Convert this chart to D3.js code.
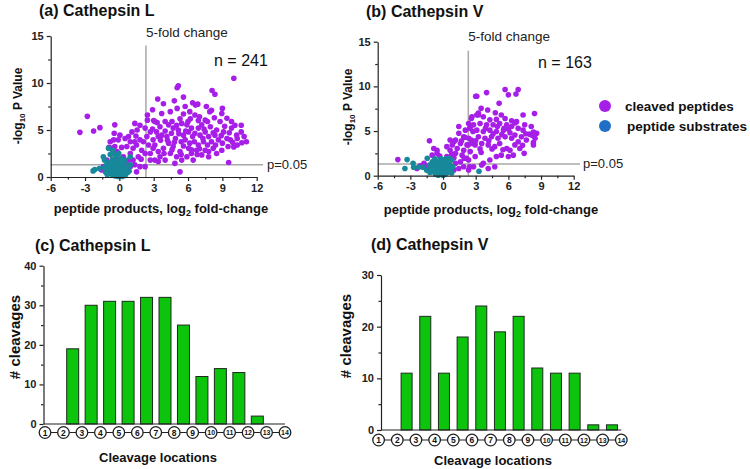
<!DOCTYPE html>
<html><head><meta charset="utf-8">
<script src="https://cdn.jsdelivr.net/npm/d3@7"></script>
<style>
body{margin:0;background:#fff;}
svg{display:block;font-family:"Liberation Sans",Arial,Helvetica,sans-serif;}
</style></head>
<body>
<svg id="chart" width="750" height="469"></svg>
<script>
// ---------------- DATA ----------------
const catLCleaved = [
[10.0,10.5],[5.15,9.7],[5.05,9.5],[8.1,9.2],[8.35,8.8],[5.6,8.5],[3.35,8.3],[3.85,7.8],[6.15,6.95],[6.65,7.65],[6.85,7.75],[7.9,6.95],[8.05,7.1],[4.45,6.95],[3.7,6.75],[5.05,7.3],[5.75,7.5],[6.6,6.6],[7.5,6.05],[8.95,6.75],[9.4,6.25],[8.8,5.9],[10.1,5.5],[9.8,5.2],[10.65,5.5],[10.65,4.8],[10.25,4.45],[11.1,3.75],[10.7,3.65],[10.3,3.4],[9.7,3.95],[9.4,4.1],[9.5,3.25],[8.35,4.45],[8.5,5.0],[7.95,5.35],[7.2,5.55],[6.9,5.2],[7.5,4.8],[7.8,4.3],[7.05,4.45],[6.6,4.65],[6.3,5.2],[5.9,5.55],[5.45,5.7],[6.05,4.8],[5.6,4.45],[5.15,5.0],[4.7,5.2],[4.3,5.55],[4.0,5.9],[3.55,5.35],[3.25,4.8],[3.7,4.45],[4.15,4.3],[4.55,4.65],[4.9,4.1],[5.4,3.75],[5.75,3.95],[6.15,3.6],[6.55,3.75],[6.9,3.4],[7.35,3.75],[8.05,3.75],[8.2,3.05],[7.5,2.85],[6.75,2.85],[6.05,3.05],[5.3,2.7],[4.7,3.25],[4.3,3.6],[3.85,3.05],[3.4,2.7],[4.45,2.5],[5.0,2.15],[5.45,1.8],[4.0,1.8],[3.4,1.65],[3.55,2.15],[5.9,2.15],[6.3,2.5],[9.55,1.55],[5.3,0.55],[10.3,4.1],[9.8,5.9],[9.1,4.8],[8.65,3.95],[8.95,2.85],[8.5,2.5],[7.8,2.15],[7.2,2.35],[6.45,1.8],[4.85,1.45],
[4.0,4.9],[4.6,5.9],[5.3,6.2],[6.2,6.2],[7.0,6.4],[7.7,5.9],[8.3,6.3],[9.2,5.4],[8.9,4.4],[7.3,4.1],[6.4,4.3],[5.8,4.9],[5.2,4.6],[4.8,3.7],[4.2,3.9],[3.6,3.9],[3.1,3.4],[3.9,2.5],[5.6,3.3],[6.3,2.9],[7.0,3.0],[7.7,3.4],[8.4,3.4],[9.0,3.6],[6.0,5.9],[5.0,5.5],[7.4,5.1],[8.2,4.7],[9.6,4.7],[10.0,3.2],[7.6,7.5],[6.4,7.9],[4.8,8.1],[9.0,7.3],[3.0,6.0],[3.3,5.8],[2.9,5.1],[5.4,2.4],[6.8,2.4],[7.8,2.7],[4.6,2.9],[10.9,4.3],[9.9,3.7],[6.9,6.0],[5.6,6.7],
[-2.8,6.45],[-3.45,4.75],[-2.25,4.9],[-1.7,5.25],[-0.4,5.55],[-0.45,4.65],[-0.5,3.95],[-0.8,3.75],[-0.9,3.15],[-0.4,3.25],[-0.2,2.7],[-0.5,2.5],[0.2,3.15],[0.35,2.15],[0.8,1.8],[0.95,2.5],[1.2,3.05],[1.5,3.4],[1.35,3.75],[1.8,3.95],[1.45,4.35],[1.55,5.0],[1.35,5.7],[1.8,5.5],[2.25,5.2],[2.45,6.05],[2.45,6.6],[2.9,7.15],[3.1,5.9],[2.7,4.8],[2.4,4.3],[2.1,3.75],[2.55,3.4],[2.95,3.05],[2.7,2.5],[2.25,2.5],[1.95,2.85],[1.65,2.15],[1.2,1.8],[1.35,1.3],[1.8,1.1],[0.95,1.1],[0.65,0.75],[1.5,0.55],[2.25,1.1],[2.7,1.8],[3.1,1.8],[2.95,3.95],[3.4,4.3],[0.95,3.75],[0.8,4.3],[1.1,4.8],[0.65,3.25],[-0.1,3.95],[0.5,4.1],[0.05,4.45],[-0.65,3.05],[-1.4,1.1],[-1.55,0.75],[-1.1,1.8],[-0.3,2.0],[0.6,1.3],[1.9,1.9]
];
const catLSubstrates = [
[-0.95,3.05],[-0.55,2.85],[-1.4,2.15],[-1.3,1.8],[0.95,2.15],[0.5,1.8],[-2.15,0.8],[-2.3,0.65],[-1.75,0.9],[-1.1,1.3],[0.95,1.3],
[-0.8,2.4],[-0.3,2.3],[0.1,2.0],[-0.6,1.9],[-0.1,1.7],[0.4,1.4],[-0.9,1.5],[-0.5,1.4],[0.0,1.3],[0.3,1.0],[-0.7,1.0],[-0.3,0.95],[0.6,0.8],[-1.0,0.7],[-0.5,0.6],[0.1,0.6],[0.45,0.5],[-0.8,0.4],[-0.2,0.4],[0.2,0.3],[-0.6,0.2],[0.0,0.15],[0.5,0.15],[-0.35,0.1],[-0.1,0.05],[0.25,0.05],[-0.15,0.8],[0.15,1.15],[-0.45,1.15],[-0.75,0.75],[0.7,0.45],[-1.2,0.5],[-0.05,2.5],[-0.4,1.7],[0.25,1.7],[-0.25,1.2],[0.0,0.9],[-0.55,0.85],[0.4,0.75],[-0.9,1.1],[0.75,1.05],[-0.3,0.3],[0.1,0.45],[-0.65,0.5],[-1.05,0.25],[0.35,0.25],[-1.3,1.0],[0.85,0.6],[-0.15,1.45],[-0.6,2.6]
];
const catVCleaved = [
[3.0,8.9],[2.65,6.6],[3.1,6.8],[2.35,5.85],[2.55,5.5],[2.05,5.1],[2.75,4.95],[1.45,5.5],[1.45,4.75],[1.9,4.35],[2.35,4.2],[1.15,4.0],[1.6,3.6],[2.2,3.45],[2.65,3.6],[0.85,3.45],[1.3,3.05],[1.9,2.85],[2.5,2.7],[1.75,2.3],[1.15,2.5],[0.65,2.85],[0.35,2.15],[1.95,1.95],[2.35,1.75],[1.6,1.55],[1.15,1.4],[1.9,1.0],[1.45,0.8],[1.0,0.65],[2.8,1.0],[2.35,0.65],[-1.25,3.9],[-0.85,3.05],[-0.55,2.85],[-1.0,2.3],[-0.55,2.5],[-1.75,1.4],[-2.1,1.1],[-4.15,1.8],[-1.45,1.0],[-2.4,0.8],[0.35,3.25],[0.65,4.0],[1.0,3.8],[3.25,7.0],
[3.1,8.9],[4.0,9.3],[5.7,9.65],[6.0,9.05],[6.7,9.15],[6.9,9.65],[5.15,8.1],[3.5,7.55],[4.1,7.35],[4.8,7.05],[5.35,6.8],[7.35,6.8],[8.4,6.95],[3.25,6.8],[2.6,6.4],[3.7,6.6],[4.3,6.25],[4.9,6.3],[5.7,6.4],[6.3,6.15],[6.75,6.05],[7.5,5.7],[8.1,5.5],[8.6,4.75],[8.45,4.2],[8.3,3.45],[7.95,4.65],[7.35,5.1],[6.9,5.3],[6.3,5.5],[5.85,5.7],[5.2,5.85],[4.6,5.7],[4.0,5.7],[3.4,5.85],[2.8,5.7],[2.45,5.3],[3.1,5.1],[3.7,4.95],[4.3,5.1],[4.9,4.95],[5.55,5.1],[6.15,4.8],[6.6,4.55],[7.2,4.35],[7.65,4.0],[6.9,3.8],[6.3,4.2],[5.7,4.35],[5.05,4.2],[4.45,4.35],[3.85,4.2],[3.25,4.35],[2.6,4.0],[2.3,3.45],[2.95,3.45],[3.55,3.6],[4.15,3.45],[4.75,3.25],[5.2,3.6],[5.85,3.05],[6.15,2.85],[6.6,3.45],[7.05,3.05],[7.45,2.5],[6.45,2.3],[6.0,2.15],[5.35,2.3],[4.9,2.15],[4.3,1.75],[3.7,1.4],[4.75,1.0],[4.15,0.8],[3.55,1.2],[2.45,1.0],[2.15,1.95],[2.95,2.15],
[3.9,5.3],[4.6,4.7],[5.4,4.6],[6.0,5.2],[6.6,5.9],[7.6,4.7],[8.2,4.5],[5.0,5.5],[5.6,5.3],[4.2,3.9],[3.0,3.9],[2.0,4.3],[1.0,2.0],[0.3,1.2],[-0.3,2.2],[0.8,2.4],[-0.9,1.6],[1.7,3.9],[3.5,2.6],[5.5,2.9],[7.3,3.4],[8.3,4.9],[8.3,3.7],[3.4,3.0],[4.5,3.0]
];
const catVSubstrates = [
[-3.3,1.8],[-3.5,0.8],[-2.75,1.4],[-1.45,1.95],[-2.7,0.95],[-2.25,0.95],[-1.85,0.95],[3.3,0.5],[-0.1,1.75],[0.8,1.75],
[-1.0,1.5],[-0.6,1.6],[-0.2,1.9],[0.3,1.6],[0.6,1.3],[-0.8,1.1],[-0.4,1.2],[0.0,1.3],[0.35,1.0],[-1.1,0.8],[-0.6,0.8],[-0.15,0.9],[0.2,0.7],[0.65,0.7],[-0.9,0.45],[-0.4,0.5],[0.05,0.45],[0.45,0.4],[-0.7,0.2],[-0.2,0.15],[0.2,0.15],[-0.45,0.05],[0.0,0.05],[-1.25,1.2],[-1.5,0.6],[0.9,1.0],[-0.3,1.45],[0.25,1.9],[-0.75,1.9],[0.55,1.95],[-0.05,0.6],[0.4,1.25],[-1.2,0.35],[0.8,0.3]
];
const xTicksScatter = [-6,-3,0,3,6,9,12];
const yTicksScatter = [0,5,10,15];
const foldChangeLine = Math.log2(5);
const pLine = -Math.log10(0.05);

const residues = [1,2,3,4,5,6,7,8,9,10,11,12,13,14];
const catLCleavages = [0,19,30,31,31,32,32,25,12,14,13,2,0];  // site between residue i and i+1
const catVCleavages = [0,11,22,11,18,24,19,22,12,11,11,1,1];
const yTicksBarL = [0,10,20,30,40];
const yTicksBarV = [0,10,20,30];

const PURPLE = "#a61ee8", TEAL = "#17899a", LEGBLUE = "#1f6fc6", GREEN = "#0cc40c";
const fmt = d => String(d);

// ---------------- DRAW ----------------
const svg = d3.select("#chart");

function styleAxis(a){
  a.selectAll("text").attr("font-size",11).attr("font-weight","bold").attr("fill","#222").attr("font-family","Liberation Sans, Arial");
  a.selectAll("line,path").attr("stroke","#222").attr("stroke-width",1.2);
}

function scatterPanel(o){
  const g = svg.append("g");
  const x = d3.scaleLinear().domain([-6,12]).range(o.xr);
  const y = d3.scaleLinear().domain([0,15]).range(o.yr);
  g.append("line").attr("x1",x(foldChangeLine)).attr("x2",x(foldChangeLine))
    .attr("y1",y(0)).attr("y2",y(14)).attr("stroke","#a8a8a8").attr("stroke-width",1.5);
  g.append("line").attr("x1",x(-6)).attr("x2",o.pEnd)
    .attr("y1",y(pLine)).attr("y2",y(pLine)).attr("stroke","#a8a8a8").attr("stroke-width",1.5);
  g.append("g").selectAll("circle").data(o.cleaved).join("circle")
    .attr("cx",d=>x(d[0])).attr("cy",d=>y(d[1])).attr("r",2.8).attr("fill",PURPLE);
  g.append("g").selectAll("circle").data(o.subs).join("circle")
    .attr("cx",d=>x(d[0])).attr("cy",d=>y(d[1])).attr("r",2.8).attr("fill",TEAL);
  const ax = g.append("g").attr("transform",`translate(0,${y(0)})`)
    .call(d3.axisBottom(x).tickValues(xTicksScatter).tickFormat(fmt).tickSize(4).tickSizeOuter(0).tickPadding(3));
  const axm = g.append("g").attr("transform",`translate(0,${y(0)})`)
    .call(d3.axisBottom(x).tickValues(xTicksScatter.slice(0,-1).map(v=>v+1.5)).tickSize(2.5).tickFormat(""))
    .call(s=>s.select(".domain").remove());
  const ay = g.append("g").attr("transform",`translate(${x(-6)},0)`)
    .call(d3.axisLeft(y).tickValues(yTicksScatter).tickFormat(fmt).tickSize(4).tickSizeOuter(0).tickPadding(3));
  const aym = g.append("g").attr("transform",`translate(${x(-6)},0)`)
    .call(d3.axisLeft(y).tickValues([2.5,7.5,12.5]).tickSize(2.5).tickFormat(""))
    .call(s=>s.select(".domain").remove());
  [ax,axm,ay,aym].forEach(styleAxis);
  g.append("text").attr("x",o.titleX).attr("y",o.titleY).attr("font-size",16).attr("font-weight","bold").attr("fill","#111").text(o.title);
  g.append("text").attr("x",x(foldChangeLine)).attr("y",o.foldY).attr("font-size",13.5).attr("fill","#222").text("5-fold change");
  g.append("text").attr("x",o.nX).attr("y",o.nY).attr("font-size",16).attr("fill","#111").text(o.n);
  g.append("text").attr("x",o.pX).attr("y",y(pLine)+4).attr("font-size",13).attr("fill","#222").text("p=0.05");
  const yl = g.append("text").attr("transform",`translate(${o.ylX},${o.ylY}) rotate(-90)`)
    .attr("text-anchor","middle").attr("font-size",12).attr("font-weight","bold").attr("fill","#111");
  yl.append("tspan").text("-log");
  yl.append("tspan").attr("font-size",8).attr("dy",3).text("10");
  yl.append("tspan").attr("dy",-3).text(" P Value");
  const xl = g.append("text").attr("x",o.xlX).attr("y",o.xlY).attr("text-anchor","middle")
    .attr("font-size",13).attr("font-weight","bold").attr("fill","#111");
  xl.append("tspan").text("peptide products, log");
  xl.append("tspan").attr("font-size",9).attr("dy",3).text("2");
  xl.append("tspan").attr("dy",-3).text(" fold-change");
}

scatterPanel({xr:[50.7,256.7], yr:[177,36], pEnd:263, cleaved:catLCleaved, subs:catLSubstrates,
  title:"(a) Cathepsin L", titleX:39, titleY:16, foldY:37, nX:214, nY:66, n:"n = 241", pX:267,
  ylX:22, ylY:106, xlX:161, xlY:213});
scatterPanel({xr:[377.7,573.7], yr:[175.7,41.7], pEnd:580, cleaved:catVCleaved, subs:catVSubstrates,
  title:"(b) Cathepsin V", titleX:366, titleY:17, foldY:41, nX:538, nY:68, n:"n = 163", pX:583,
  ylX:352, ylY:107, xlX:491, xlY:214});

// legend
const leg = svg.append("g");
[["cleaved peptides",PURPLE,106,625],["peptide substrates",LEGBLUE,126,627]].forEach(([t,c,yy,tx])=>{
  leg.append("circle").attr("cx",605).attr("cy",yy).attr("r",6).attr("fill",c);
  leg.append("text").attr("x",tx).attr("y",yy+5).attr("font-size",13.5).attr("font-weight","bold").attr("fill","#111").text(t);
});

function barPanel(o){
  const g = svg.append("g");
  const x = d3.scaleLinear().domain([1,14]).range(o.xr);
  const y = d3.scaleLinear().domain([0,o.ymax]).range(o.yr);
  g.append("g").selectAll("rect").data(o.values).join("rect")
    .attr("x",(d,i)=>x(i+1.5)-o.bw/2).attr("width",o.bw)
    .attr("y",d=>y(d)).attr("height",d=>y(0)-y(d))
    .attr("fill",GREEN).attr("stroke","#1d2a1d").attr("stroke-width",1);
  g.append("line").attr("x1",o.yAxisX).attr("x2",x(14)).attr("y1",y(0)).attr("y2",y(0)).attr("stroke","#222").attr("stroke-width",1.2);
  const ay = g.append("g").attr("transform",`translate(${o.yAxisX},0)`)
    .call(d3.axisLeft(y).tickValues(o.yticks).tickFormat(fmt).tickSize(4).tickSizeOuter(0).tickPadding(3));
  const aym = g.append("g").attr("transform",`translate(${o.yAxisX},0)`)
    .call(d3.axisLeft(y).tickValues(o.yticks.slice(0,-1).map(v=>v+5)).tickSize(2.5).tickFormat(""))
    .call(s=>s.select(".domain").remove());
  [ay,aym].forEach(styleAxis);
  g.append("line").attr("x1",x(1)).attr("x2",x(14)).attr("y1",o.cy).attr("y2",o.cy).attr("stroke","#222").attr("stroke-width",1.2);
  const c = g.append("g").selectAll("g").data(residues).join("g").attr("transform",d=>`translate(${x(d)},${o.cy})`);
  c.append("circle").attr("r",5.8).attr("fill","#fff").attr("stroke","#222").attr("stroke-width",1.3);
  c.append("text").attr("text-anchor","middle").attr("dy","0.36em").attr("font-size",d=>d>9?7:8.5).attr("font-weight","bold").attr("fill","#111").text(d=>d);
  g.append("text").attr("x",o.titleX).attr("y",o.titleY).attr("font-size",16).attr("font-weight","bold").attr("fill","#111").text(o.title);
  g.append("text").attr("transform",`translate(${o.ylX},${o.ylY}) rotate(-90)`).attr("text-anchor","middle")
    .attr("font-size",15).attr("font-weight","bold").attr("fill","#111").text("# cleavages");
  g.append("text").attr("x",o.xlX).attr("y",o.xlY).attr("text-anchor","middle").attr("font-size",13)
    .attr("font-weight","bold").attr("fill","#111").text("Cleavage locations");
}

barPanel({xr:[45,285], yr:[424,265.7], ymax:40, yticks:yTicksBarL, values:catLCleavages, bw:12, yAxisX:43.5, cy:432.5,
  title:"(c) Cathepsin L", titleX:35, titleY:251, ylX:20, ylY:337, xlX:158, xlY:462});
barPanel({xr:[378.6,621.3], yr:[430,275], ymax:30, yticks:yTicksBarV, values:catVCleavages, bw:11, yAxisX:381, cy:440,
  title:"(d) Cathepsin V", titleX:371, titleY:250, ylX:351, ylY:336, xlX:493, xlY:465});
</script>
</body></html>
